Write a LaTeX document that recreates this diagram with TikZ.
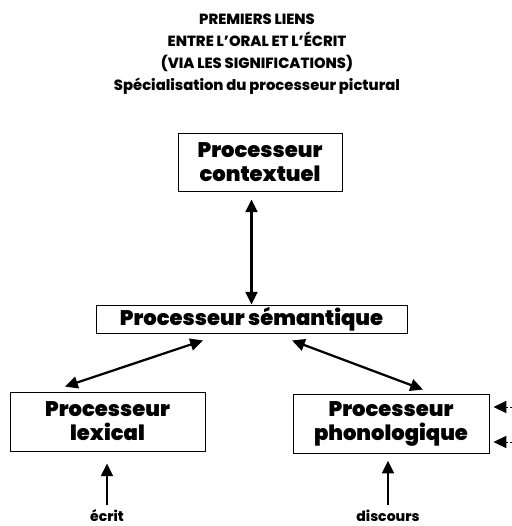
\documentclass[tikz,border=0pt]{standalone}
\usepackage{fontspec}
\setmainfont{Poppins}
\newfontfamily\gras{Poppins ExtraBold}
\newfontfamily\noir{Poppins Black}
\usetikzlibrary{arrows.meta}
\tikzset{
  proc/.style={draw, line width=0.6pt, align=center, inner sep=0pt,
    font=\fontsize{15}{17}\selectfont\noir},
  titre/.style={align=center, font=\fontsize{10.5}{15.6}\selectfont\gras},
  mot/.style={font=\fontsize{10}{12}\selectfont\gras},
  tip/.tip={Triangle[length=0.32cm,width=0.3cm]},
  lien/.style={line width=1.6pt, tip-tip},
  entree/.style={line width=1.6pt, -tip},
  bord/.style={line width=0.7pt, dash pattern=on 1.5pt off 1pt, -tip}
}
\begin{document}
\begin{tikzpicture}[x=0.025cm, y=-0.025cm]
  \useasboundingbox (0,0) rectangle (512,526);
  % titre
  \node[titre] (titre) at (257,54) {PREMIERS LIENS\\ENTRE L’ORAL ET L’ÉCRIT\\(VIA LES SIGNIFICATIONS)\\Spécialisation du processeur pictural};
  % processeurs
  \node[proc, minimum width=4.1cm, minimum height=1.45cm] (ctx) at (260,162) {Processeur\\contextuel};
  \node[proc, minimum width=7.775cm, minimum height=0.7cm] (sem) at (251.5,319) {Processeur sémantique};
  \node[proc, minimum width=4.875cm, minimum height=1.475cm] (lex) at (107.5,421.5) {Processeur\\lexical};
  \node[proc, minimum width=4.9cm, minimum height=1.475cm] (pho) at (391,423.5) {Processeur\\phonologique};
  % entrees
  \node[mot] (ecrit) at (107,516) {écrit};
  \node[mot] (disc) at (388,516) {discours};
  \coordinate (e1) at (512,407);
  \coordinate (e2) at (512,442);
  % liens
  \draw[lien, shorten <=0.2cm] (ctx.south -| sem.north) -- (sem.north);
  \draw[lien] ([shift={(-48.5,7)}]sem.south) -- ([shift={(-42.5,-5)}]lex.north);
  \draw[lien] ([shift={(40.5,7)}]sem.south) -- ([shift={(32,-4)}]pho.north);
  \draw[entree, shorten >=0.3cm] (ecrit.north) -- (ecrit.north |- lex.south);
  \draw[entree, shorten >=0.18cm] (disc.north) -- (disc.north |- pho.south);
  \draw[bord, shorten >=0.1cm] (e1) -- (pho.east |- e1);
  \draw[bord, shorten >=0.1cm] (e2) -- (pho.east |- e2);
\end{tikzpicture}
\end{document}
